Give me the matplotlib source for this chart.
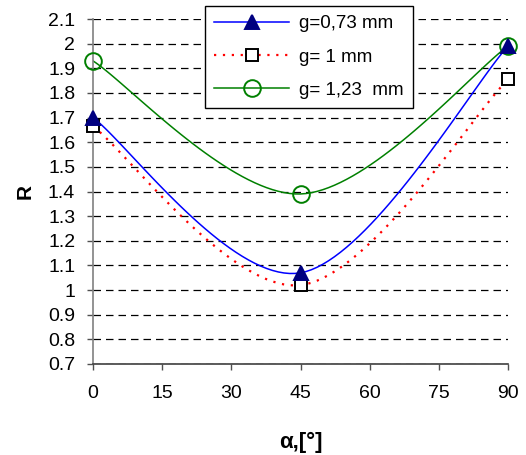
import numpy as np
import matplotlib
matplotlib.use("Agg")
import matplotlib.pyplot as plt

plt.rcParams['font.family'] = ['Liberation Sans', 'DejaVu Sans']

# data
alpha = [0, 45, 90]
r_073 = [1.70, 1.07, 1.99]
r_100 = [1.665, 1.02, 1.855]
r_123 = [1.93, 1.39, 1.99]
labels = ["g=0,73 mm", "g= 1 mm", "g= 1,23  mm"]
y_ticks = [0.7, 0.8, 0.9, 1.0, 1.1, 1.2, 1.3, 1.4, 1.5, 1.6, 1.7, 1.8, 1.9, 2.0, 2.1]


def smooth(xs, ys, n=40):
    # Excel-style smoothed line (cubic Bezier through the points)
    p = np.column_stack([xs, ys]).astype(float)
    out = []
    for i in range(len(p) - 1):
        p0 = p[i - 1] if i > 0 else p[i]
        p3 = p[i + 2] if i + 2 < len(p) else p[i + 1]
        c1 = p[i] + (p[i + 1] - p0) / 6
        c2 = p[i + 1] - (p3 - p[i]) / 6
        t = np.linspace(0, 1, n)[:, None]
        seg = ((1 - t) ** 3 * p[i] + 3 * (1 - t) ** 2 * t * c1
               + 3 * (1 - t) * t ** 2 * c2 + t ** 3 * p[i + 1])
        out.append(seg if i == 0 else seg[1:])
    out = np.vstack(out)
    return out[:, 0], out[:, 1]


fig = plt.figure(figsize=(5.26, 4.55), dpi=100)
ax = fig.add_axes([93 / 526, 1 - 364 / 455, 415 / 526, 345 / 455])

styles = [
    dict(color="#0000FF", ls="-", marker="^", mfc="#000080", mec="#000080", ms=10),
    dict(color="#FF0000", ls=(0, (1, 3)), marker="s", mfc="white", mec="black", ms=9),
    dict(color="#008000", ls="-", marker="o", mfc="none", mec="#008000", ms=12),
]
series = [r_073, r_100, r_123]
for ys, st in zip(series, styles):
    sx, sy = smooth(alpha, ys)
    ax.plot(sx, sy, color=st["color"], ls=st["ls"],
            lw=1.6 if st["marker"] == "s" else 1.1, zorder=2)
for ys, st in reversed(list(zip(series, styles))):
    ax.plot(alpha, ys, ls="none", marker=st["marker"], mfc=st["mfc"], mec=st["mec"],
            ms=st["ms"], mew=1.4, zorder=3, clip_on=False)

# legend proxies
handles = []
for lab, st in zip(labels, styles):
    h, = ax.plot([], [], color=st["color"], ls=st["ls"],
                 lw=1.6 if st["marker"] == "s" else 1.1, marker=st["marker"],
                 mfc=st["mfc"], mec=st["mec"], ms=st["ms"], mew=1.4, label=lab)
    handles.append(h)

ax.set_xlim(0, 90)
ax.set_ylim(0.7, 2.1)
ax.set_xticks(np.arange(0, 91, 15))
ax.set_yticks(y_ticks)
ax.set_yticklabels(["%g" % v for v in y_ticks])
ax.yaxis.grid(True, color="black", ls=(0, (6, 4)), lw=0.9)
ax.set_axisbelow(True)
for s in ["top", "right"]:
    ax.spines[s].set_visible(False)
ax.spines["left"].set_color("#808080")
ax.spines["bottom"].set_color("#404040")
for s in ["left", "bottom"]:
    ax.spines[s].set_linewidth(1.2)
ax.tick_params(axis="both", labelsize=14, length=4.3, color="#505050", width=1)
ax.tick_params(axis="x", pad=11)
ax.tick_params(axis="y", pad=8.5)
ax.set_xlabel("α,[°]", fontsize=16, fontweight="bold", va="center")
ax.xaxis.set_label_coords(0.5, -(442 - 364) / 345)
ax.set_ylabel("R", fontsize=15, fontweight="bold", va="center")
ax.yaxis.set_label_coords(-(93 - 25) / 415, 0.5)

leg = fig.legend(handles, labels, loc="upper left", bbox_to_anchor=(205 / 526, 1 - 6 / 455),
                 fontsize=13.5, frameon=True, fancybox=False, edgecolor="black",
                 framealpha=1, borderpad=0.5, labelspacing=0.85, handlelength=4.0,
                 handletextpad=0.5, borderaxespad=0)
leg.get_frame().set_linewidth(1.0)

fig.savefig("out.png", dpi=100)
